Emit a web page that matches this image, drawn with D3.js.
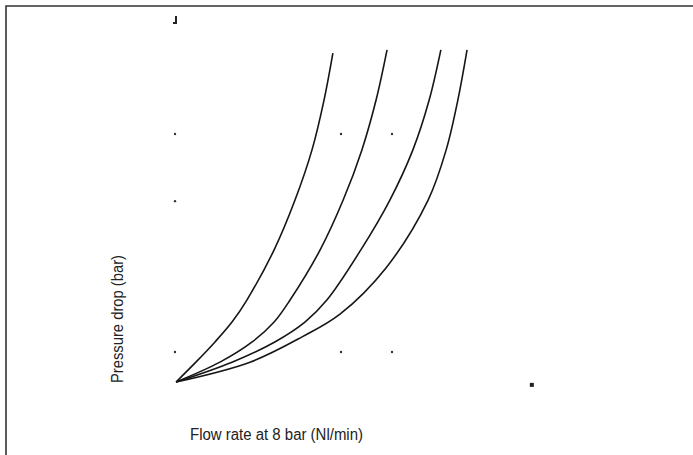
<!DOCTYPE html>
<html>
<head>
<meta charset="utf-8">
<script src="https://cdn.jsdelivr.net/npm/d3@7"></script>
<style>
  html, body { margin: 0; padding: 0; background: #fff; }
  svg { display: block; }
</style>
</head>
<body>
<div id="chart"></div>
<script>
// Pressure drop vs flow rate - four curves, no tick labels in the original

const seriesNames = ["A", "B", "C", "D"];

const flowA = [0.3, 5.9, 11.3, 16.1, 20.3, 28.0, 33.9, 38.7, 42.1, 44.6];
const dropA = [0, 0.55, 1.11, 1.66, 2.27, 3.66, 5.04, 6.43, 7.81, 9.11];

const flowB = [0.3, 12.7, 21.8, 28.0, 32.5, 41.0, 47.5, 52.8, 56.8, 59.9];
const dropB = [0, 0.55, 1.11, 1.66, 2.27, 3.66, 5.04, 6.43, 7.81, 9.20];

const flowC = [0.3, 16.1, 28.2, 36.7, 42.9, 52.5, 60.7, 67.2, 71.8, 75.1];
const dropC = [0, 0.55, 1.11, 1.66, 2.27, 3.66, 5.04, 6.43, 7.81, 9.20];

const flowD = [0.3, 21.2, 35.9, 46.6, 59.6, 71.5, 76.6, 79.9, 82.5];
const dropD = [0, 0.55, 1.25, 1.88, 3.16, 5.04, 6.43, 7.81, 9.20];

// stray grid dots left in the scan
const dotFlow = [0, 0, 0, 46.9, 61.3, 46.9, 61.3];
const dotDrop = [6.87, 5.01, 0.83, 6.87, 6.87, 0.83, 0.83];

// axis end marks
const endFlow = [100.8];
const endDrop = [-0.08];
const topFlow = [0];
const topDrop = [10.03];

const xLabel = "Flow rate at 8 bar (Nl/min)";
const yLabel = "Pressure drop (bar)";

const W = 693, H = 455;
const FONT = "'Liberation Sans Narrow', 'Arial Narrow', 'Liberation Sans', Arial, sans-serif";

const x = d3.scaleLinear().domain([0, 100]).range([175, 529]);
const y = d3.scaleLinear().domain([0, 10]).range([382, 21]);

const svg = d3.select("#chart").append("svg")
  .attr("width", W)
  .attr("height", H)
  .attr("viewBox", `0 0 ${W} ${H}`);

// frame: top and left edges only
svg.append("path")
  .attr("d", `M6,${H} V6 H${W}`)
  .attr("fill", "none")
  .attr("stroke", "#333")
  .attr("stroke-width", 1.6);

const series = [
  flowA.map((f, i) => [f, dropA[i]]),
  flowB.map((f, i) => [f, dropB[i]]),
  flowC.map((f, i) => [f, dropC[i]]),
  flowD.map((f, i) => [f, dropD[i]]),
];

const line = d3.line()
  .x(d => x(d[0]))
  .y(d => y(d[1]))
  .curve(d3.curveCatmullRom.alpha(0.5));

svg.append("g")
  .selectAll("path")
  .data(series)
  .join("path")
    .attr("class", (d, i) => "curve-" + seriesNames[i])
    .attr("d", line)
    .attr("fill", "none")
    .attr("stroke", "#161616")
    .attr("stroke-width", 1.6);

// small dots
svg.append("g")
  .selectAll("circle")
  .data(dotFlow.map((f, i) => [f, dotDrop[i]]))
  .join("circle")
    .attr("cx", d => x(d[0]))
    .attr("cy", d => y(d[1]))
    .attr("r", 1.2)
    .attr("fill", "#333");

// square marker at the end of the flow axis
svg.append("g")
  .selectAll("rect")
  .data(endFlow.map((f, i) => [f, endDrop[i]]))
  .join("rect")
    .attr("x", d => x(d[0]) - 2)
    .attr("y", d => y(d[1]) - 2)
    .attr("width", 4)
    .attr("height", 4)
    .attr("fill", "#222");

// little hook mark at the top of the pressure axis
topFlow.forEach((f, i) => {
  const px = x(f), py = y(topDrop[i]);
  svg.append("path")
    .attr("d", `M${px + 1},${py - 4} V${py + 3} H${px - 2}`)
    .attr("fill", "none")
    .attr("stroke", "#222")
    .attr("stroke-width", 2);
});

// axis titles (condensed face in the original, squeezed to the same width)
svg.append("text")
  .attr("x", 190)
  .attr("y", 440)
  .attr("fill", "#222")
  .attr("font-size", "16px")
  .attr("font-family", FONT)
  .attr("textLength", 173)
  .attr("lengthAdjust", "spacingAndGlyphs")
  .text(xLabel);

svg.append("text")
  .attr("transform", "translate(123,383) rotate(-90)")
  .attr("fill", "#222")
  .attr("font-size", "16px")
  .attr("font-family", FONT)
  .attr("textLength", 128)
  .attr("lengthAdjust", "spacingAndGlyphs")
  .text(yLabel);
</script>
</body>
</html>
